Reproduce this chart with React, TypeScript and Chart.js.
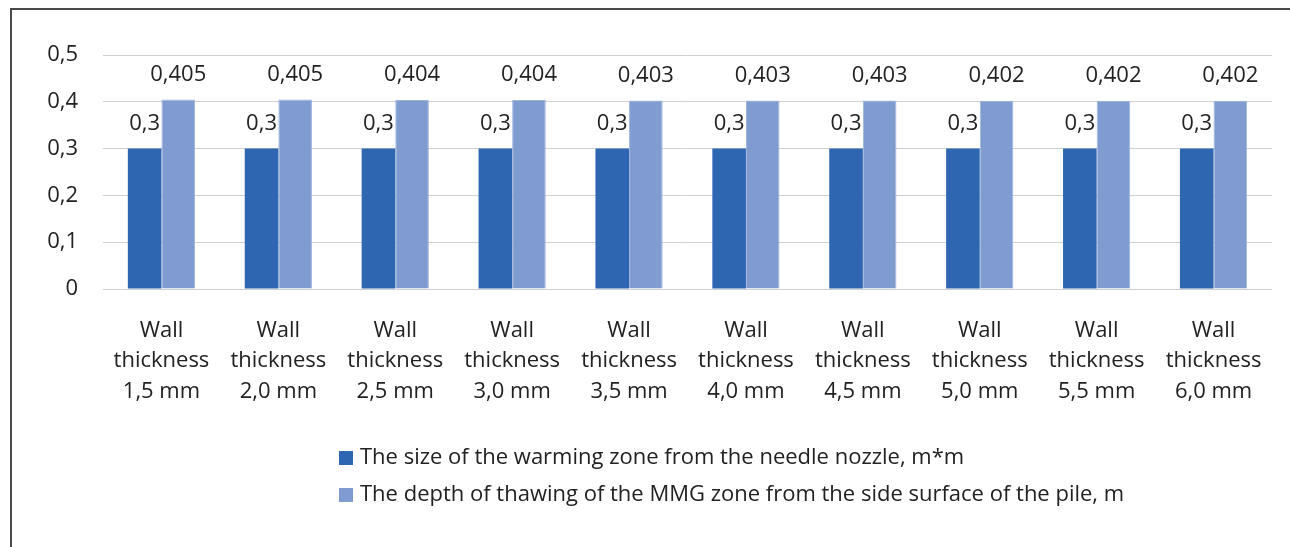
import React, { useEffect, useRef } from "react";
import { Chart, registerables } from "chart.js";

Chart.register(...registerables);

const categories: string[][] = [
  ["Wall", "thickness", "1,5 mm"],
  ["Wall", "thickness", "2,0 mm"],
  ["Wall", "thickness", "2,5 mm"],
  ["Wall", "thickness", "3,0 mm"],
  ["Wall", "thickness", "3,5 mm"],
  ["Wall", "thickness", "4,0 mm"],
  ["Wall", "thickness", "4,5 mm"],
  ["Wall", "thickness", "5,0 mm"],
  ["Wall", "thickness", "5,5 mm"],
  ["Wall", "thickness", "6,0 mm"],
];

const warmingZone: number[] = [0.3, 0.3, 0.3, 0.3, 0.3, 0.3, 0.3, 0.3, 0.3, 0.3];
const thawingDepth: number[] = [0.405, 0.405, 0.404, 0.404, 0.403, 0.403, 0.403, 0.402, 0.402, 0.402];

const seriesNames: string[] = [
  "The size of the warming zone from the needle nozzle, m*m",
  "The depth of thawing of the MMG zone from the side surface of the pile, m",
];

const yTicks: number[] = [0, 0.1, 0.2, 0.3, 0.4, 0.5];

const FONT = "'Open Sans', Lato, sans-serif";
const FSIZE = 22;
const DARK = "#2f66b2";
const LIGHT = "#7f9bd0";
const TEXT = "#222222";

const fmt = (v: number) => String(v).replace(".", ",");

const labelsPlugin = {
  id: "valueLabels",
  afterDatasetsDraw(chart: any) {
    const ctx = chart.ctx;
    ctx.save();
    ctx.font = `${FSIZE}px ${FONT}`;
    ctx.fillStyle = TEXT;
    ctx.textAlign = "center";
    ctx.textBaseline = "middle";
    chart.data.datasets.forEach((ds: any, di: number) => {
      const meta = chart.getDatasetMeta(di);
      meta.data.forEach((bar: any, i: number) => {
        ctx.fillText(fmt(ds.data[i]), bar.x, bar.y - 25);
      });
    });
    ctx.restore();
  },
};

const legendPlugin = {
  id: "blockLegend",
  afterDraw(chart: any) {
    const ctx = chart.ctx;
    ctx.save();
    ctx.font = `${FSIZE}px ${FONT}`;
    ctx.textAlign = "left";
    ctx.textBaseline = "middle";
    const startX = 327;
    const rows = [448, 485];
    chart.data.datasets.forEach((ds: any, di: number) => {
      const y = rows[di];
      ctx.fillStyle = ds.backgroundColor;
      ctx.fillRect(startX, y - 7, 14, 14);
      ctx.fillStyle = TEXT;
      ctx.fillText(ds.label, startX + 21, y);
    });
    ctx.restore();
  },
};

export default function App() {
  const ref = useRef<HTMLCanvasElement | null>(null);

  useEffect(() => {
    if (!ref.current) return;
    const chart = new Chart(ref.current, {
      type: "bar",
      data: {
        labels: categories,
        datasets: [
          {
            label: seriesNames[0],
            data: warmingZone,
            backgroundColor: DARK,
            borderColor: "#3a6fb8",
            borderWidth: 0,
          },
          {
            label: seriesNames[1],
            data: thawingDepth,
            backgroundColor: LIGHT,
            borderColor: "#9fb5e0",
            borderWidth: 1,
          },
        ],
      },
      options: {
        animation: false,
        responsive: false,
        maintainAspectRatio: false,
        layout: { padding: { left: 0, top: 45, right: 18, bottom: 0 } },
        datasets: {
          bar: { categoryPercentage: 0.575, barPercentage: 1 },
        },
        plugins: {
          legend: { display: false },
          tooltip: { enabled: false },
          title: { display: false },
        },
        scales: {
          x: {
            grid: { display: false, drawTicks: false },
            border: { display: false },
            ticks: {
              padding: 26,
              color: TEXT,
              font: { family: FONT, size: FSIZE, lineHeight: 1.39 },
              maxRotation: 0,
              autoSkip: false,
            },
            afterFit: (scale: any) => {
              scale.height = 258;
            },
          },
          y: {
            min: 0,
            max: 0.5,
            afterBuildTicks: (scale: any) => {
              scale.ticks = yTicks.map((v) => ({ value: v }));
            },
            grid: { color: "#d0d0d0", lineWidth: 1, drawTicks: false },
            border: { display: false },
            ticks: {
              padding: 25,
              color: TEXT,
              font: { family: FONT, size: FSIZE },
              callback: (v: any) => fmt(Number(v)),
            },
            afterFit: (scale: any) => {
              scale.width = 91;
            },
          },
        },
      },
      plugins: [labelsPlugin, legendPlugin],
    });
    return () => chart.destroy();
  }, []);

  return (
    <div
      style={{
        position: "fixed",
        left: 10,
        top: 8,
        width: 1280,
        height: 539,
        borderTop: "2px solid #4a4a4a",
        borderLeft: "2px solid #4a4a4a",
        background: "#fff",
      }}
    >
      <canvas ref={ref} width={1278} height={537} style={{ display: "block" }} />
    </div>
  );
}
